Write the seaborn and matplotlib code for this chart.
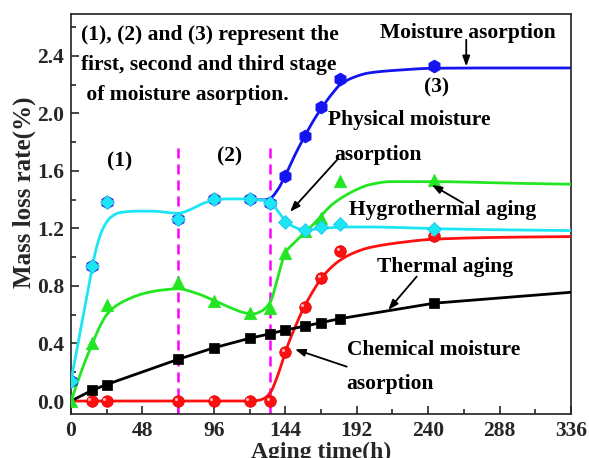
import numpy as np
import pandas as pd
import matplotlib
matplotlib.use("Agg")
import matplotlib.pyplot as plt
import matplotlib.transforms as mtransforms
import seaborn as sns

# ---- measured points -------------------------------------------------------
time_h = [0, 14, 24, 72, 96, 120, 134, 144, 157, 168, 181, 244]
thermal = [0.0, 0.074, 0.115, 0.29, 0.37, 0.436, 0.468, 0.494, 0.52, 0.545, 0.573, 0.68]
hygrothermal = [0.0, 0.40, 0.67, 0.83, 0.698, 0.61, 0.645, 1.027, 1.18, 1.27, 1.526, 1.537]
physical = [0.14, 0.94, 1.384, 1.266, 1.403, 1.405, 1.378, 1.247, 1.19, 1.21, 1.23, 1.196]
chemical = [0.0, 0.0, 0.0, 0.0, 0.0, 0.0, 0.0, 0.339, 0.652, 0.853, 1.04, 1.148]
moisture = [0.14, 0.94, 1.384, 1.266, 1.403, 1.405, 1.378, 1.567, 1.839, 2.043, 2.24, 2.326]

# ---- fitted trend lines (knots of each smooth curve) -----------------------
thermal_fit_t = [0, 14, 24, 72, 96, 120, 134, 144, 157, 168, 181, 244, 336]
thermal_fit_v = [0.0, 0.074, 0.115, 0.29, 0.37, 0.436, 0.468, 0.494, 0.52, 0.545, 0.573, 0.68, 0.756]

physical_fit_t = [0, 4, 8, 12, 15, 18, 22, 27, 33, 45, 55, 65, 72, 80, 88, 96, 105, 115,
                  124, 130, 134, 139, 144, 150, 157, 165, 175, 185, 200, 244, 290, 336]
physical_fit_v = [0.14, 0.36, 0.58, 0.80, 0.97, 1.10, 1.21, 1.28, 1.31, 1.32, 1.32, 1.31,
                  1.305, 1.33, 1.37, 1.395, 1.405, 1.405, 1.40, 1.395, 1.38, 1.32, 1.255,
                  1.21, 1.19, 1.195, 1.205, 1.21, 1.21, 1.198, 1.19, 1.185]

moisture_fit_t = [118, 124, 130, 134, 139, 144, 150, 157, 163, 168, 175, 181, 190, 200,
                  220, 244, 290, 336]
moisture_fit_v = [1.405, 1.40, 1.398, 1.41, 1.47, 1.567, 1.70, 1.84, 1.95, 2.03, 2.13,
                  2.20, 2.25, 2.28, 2.30, 2.313, 2.315, 2.315]

hygro_fit_t = [0, 5, 10, 14, 19, 24, 30, 40, 48, 60, 72, 84, 96, 108, 116, 122, 128, 134,
               139, 144, 150, 157, 164, 170, 176, 183, 192, 201, 215, 244, 290, 336]
hygro_fit_v = [0.0, 0.15, 0.29, 0.39, 0.51, 0.60, 0.66, 0.715, 0.745, 0.77, 0.78, 0.75,
               0.70, 0.645, 0.615, 0.605, 0.625, 0.69, 0.86, 1.03, 1.10, 1.17, 1.24, 1.31,
               1.37, 1.42, 1.47, 1.505, 1.525, 1.525, 1.515, 1.507]

chemical_fit_t = [0, 120, 126, 130, 134, 139, 144, 150, 157, 163, 168, 175, 181, 190, 200,
                  220, 244, 290, 336]
chemical_fit_v = [0.0, 0.0, 0.005, 0.02, 0.06, 0.18, 0.34, 0.50, 0.66, 0.77, 0.85, 0.93,
                  0.98, 1.03, 1.065, 1.10, 1.125, 1.138, 1.143]

stage_bounds = [72, 134]

x_ticks = [0, 48, 96, 144, 192, 240, 288, 336]
y_ticks = [0.0, 0.4, 0.8, 1.2, 1.6, 2.0, 2.4]


def pchip(x, y, xs):
    """Shape-preserving cubic through the curve knots."""
    x = np.asarray(x, float)
    y = np.asarray(y, float)
    h = np.diff(x)
    d = np.diff(y) / h
    m = np.zeros_like(y)
    for k in range(1, len(x) - 1):
        if d[k - 1] * d[k] > 0:
            w1 = 2 * h[k] + h[k - 1]
            w2 = h[k] + 2 * h[k - 1]
            m[k] = (w1 + w2) / (w1 / d[k - 1] + w2 / d[k])
    m[0], m[-1] = d[0], d[-1]
    idx = np.clip(np.searchsorted(x, xs) - 1, 0, len(h) - 1)
    t = (xs - x[idx]) / h[idx]
    h00 = 2 * t**3 - 3 * t**2 + 1
    h10 = t**3 - 2 * t**2 + t
    h01 = -2 * t**3 + 3 * t**2
    h11 = t**3 - t**2
    return h00 * y[idx] + h10 * h[idx] * m[idx] + h01 * y[idx + 1] + h11 * h[idx] * m[idx + 1]


def curve(t, v, n=600):
    xs = np.linspace(t[0], t[-1], n)
    return pd.DataFrame({"t": xs, "v": pchip(t, v, xs)})


sns.set_style("ticks")
FONT = ["Liberation Serif", "DejaVu Serif"]
plt.rcParams["font.family"] = FONT
plt.rcParams["font.weight"] = "bold"

BLUE = "#1414f0"
CYAN = "#1ce6f4"
GREEN = "#22e622"
RED = "#ff1010"
BLACK = "#000000"
MAGENTA = "#ff00ff"

fig = plt.figure(figsize=(5.89, 4.58), dpi=100)
ax = fig.add_axes([71 / 589, 1 - 414 / 458, 500 / 589, 400 / 458])

pts = pd.DataFrame({"t": time_h, "thermal": thermal, "hygro": hygrothermal,
                    "physical": physical, "chemical": chemical, "moisture": moisture})

lw = 2.0
# fitted lines
sns.lineplot(data=curve(moisture_fit_t, moisture_fit_v), x="t", y="v", ax=ax,
             color=BLUE, lw=lw, estimator=None, sort=False, zorder=2)
sns.lineplot(data=curve(chemical_fit_t, chemical_fit_v), x="t", y="v", ax=ax,
             color=RED, lw=lw, estimator=None, sort=False, zorder=3)
sns.lineplot(data=pd.DataFrame({"t": thermal_fit_t, "v": thermal_fit_v}), x="t", y="v",
             ax=ax, color=BLACK, lw=lw, estimator=None, sort=False, zorder=3)
sns.lineplot(data=curve(hygro_fit_t, hygro_fit_v), x="t", y="v", ax=ax,
             color=GREEN, lw=lw, estimator=None, sort=False, zorder=4)
sns.lineplot(data=curve(physical_fit_t, physical_fit_v), x="t", y="v", ax=ax,
             color=CYAN, lw=lw, estimator=None, sort=False, zorder=6)

# measured points
sns.scatterplot(data=pts, x="t", y="moisture", ax=ax, marker="h", s=85, color=BLUE,
                edgecolor=BLUE, linewidth=0.6, zorder=5)
sns.scatterplot(data=pts.iloc[1:], x="t", y="chemical", ax=ax, marker="o", s=70, color=RED,
                edgecolor="#e00000", linewidth=0.5, zorder=5)
# small specular highlight on the red balls
shine = ax.transData + mtransforms.ScaledTranslation(-1.8 / 72, 1.6 / 72, fig.dpi_scale_trans)
ax.scatter(pts["t"].iloc[1:], pts["chemical"].iloc[1:], s=5, color="#ffb4b4",
           linewidths=0, zorder=5.5, transform=shine)
sns.scatterplot(data=pts.iloc[1:], x="t", y="thermal", ax=ax, marker="s", s=55, color=BLACK,
                edgecolor=BLACK, linewidth=0.5, zorder=5)
sns.scatterplot(data=pts, x="t", y="hygro", ax=ax, marker="^", s=80, color=GREEN,
                edgecolor=GREEN, linewidth=0.5, zorder=5)
sns.scatterplot(data=pts, x="t", y="physical", ax=ax, marker="D", s=50, color=CYAN,
                edgecolor="#22c4ec", linewidth=0.6, zorder=7)

# stage boundaries
for xb in stage_bounds:
    ax.plot([xb, xb], [-0.09, 1.8], color=MAGENTA, lw=1.8, ls=(0, (4, 2.4)), zorder=1)

ax.set_xlim(0, 336)
ax.set_ylim(-0.09, 2.69)
ax.set_xticks(x_ticks)
ax.set_xticklabels([str(v) for v in x_ticks])
ax.set_yticks(y_ticks)
ax.set_yticklabels([f"{v:.1f}" for v in y_ticks])
ax.set_xticks(np.arange(24, 336, 48), minor=True)
ax.set_yticks(np.arange(0.2, 2.7, 0.4), minor=True)
ax.tick_params(which="both", direction="in", top=False, right=False, width=1.2,
               labelsize=15.5, pad=5)
ax.tick_params(which="major", length=6)
ax.tick_params(which="minor", length=3.5)
for lbl in ax.get_xticklabels() + ax.get_yticklabels():
    lbl.set_fontweight("bold")
for sp in ax.spines.values():
    sp.set_visible(True)
    sp.set_linewidth(1.2)
    sp.set_color("#222222")

ax.set_xlabel("Aging time(h)", fontsize=17, fontweight="bold")
ax.set_ylabel("Mass loss rate(%)", fontsize=18, fontweight="bold")
ax.xaxis.set_label_coords(0.5, -0.07)
ax.yaxis.set_label_coords(-0.07, 0.555)

tk = dict(fontsize=15.5, fontweight="bold", color="black", zorder=10)
ax.text(6.8, 2.337, "(1), (2) and (3) represent the\nfirst, second and third stage\n of moisture asorption.",
        ha="left", va="center", linespacing=1.65, **tk)
ax.text(32.9, 1.665, "(1)", ha="center", va="center", **tk)
ax.text(106.4, 1.70, "(2)", ha="center", va="center", **tk)
ax.text(245.7, 2.177, "(3)", ha="center", va="center", **tk)
ax.text(266.8, 2.56, "Moisture asorption", ha="center", va="center", **tk)
ax.text(172.7, 1.955, "Physical moisture", ha="left", va="center", **tk)
ax.text(176.7, 1.711, "asorption", ha="left", va="center", **tk)
ax.text(186.8, 1.329, "Hygrothermal aging", ha="left", va="center", **tk)
ax.text(205.4, 0.934, "Thermal aging", ha="left", va="center", **tk)
ax.text(185.3, 0.355, "Chemical moisture", ha="left", va="center", **tk)
ax.text(185.3, 0.118, "asorption", ha="left", va="center", **tk)

arrow = dict(arrowstyle="-|>,head_length=0.6,head_width=0.22", color="black", lw=1.3,
             shrinkA=0, shrinkB=0)
for tail, head in [((265.6, 2.511), (265.6, 2.326)),
                   ((179.4, 1.683), (147.2, 1.315)),
                   ((263.4, 1.377), (242.4, 1.503)),
                   ((232.3, 0.865), (213.2, 0.633)),
                   ((185.3, 0.239), (150.5, 0.36))]:
    ax.annotate("", xy=head, xytext=tail, arrowprops=arrow, zorder=10)

fig.savefig("out.png", dpi=100)
